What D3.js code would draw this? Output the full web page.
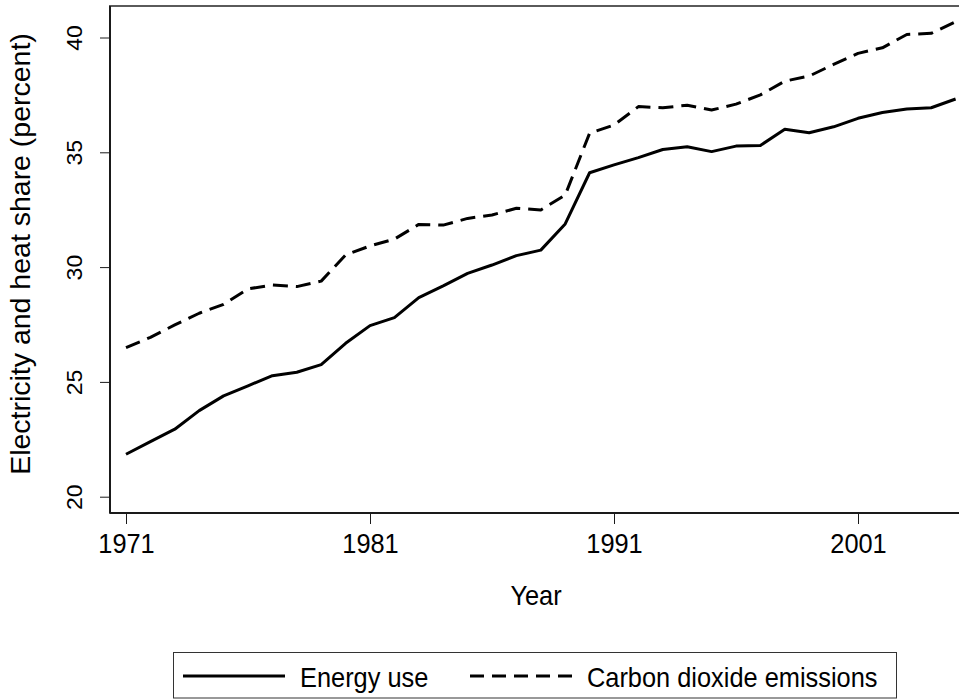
<!DOCTYPE html>
<html lang="en">
<head>
    <meta charset="utf-8">
    <title>Electricity and heat share</title>
    <style>
        body { margin: 0; background: #fff; }
        svg { display: block; font-family: "Liberation Sans", Arial, sans-serif; }
        .axis path { stroke: #1a1a1a; stroke-width: 2px; }
        .axis line { stroke: #1a1a1a; stroke-width: 1px; }
        .axis text { fill: #000; }
    </style>
</head>
<body>
<div id="chart"></div>
<script src="https://d3js.org/d3.v7.min.js"></script>
<script>
    // data
    var years = [1971, 1972, 1973, 1974, 1975, 1976, 1977, 1978, 1979, 1980,
                 1981, 1982, 1983, 1984, 1985, 1986, 1987, 1988, 1989, 1990,
                 1991, 1992, 1993, 1994, 1995, 1996, 1997, 1998, 1999, 2000,
                 2001, 2002, 2003, 2004, 2005];
    var energyUse = [21.85, 22.40, 22.94, 23.75, 24.39, 24.83, 25.27, 25.42, 25.75, 26.68,
                     27.45, 27.80, 28.67, 29.18, 29.73, 30.09, 30.50, 30.74, 31.88, 34.11,
                     34.45, 34.77, 35.12, 35.24, 35.03, 35.27, 35.30, 36.00, 35.85, 36.11,
                     36.48, 36.73, 36.89, 36.94, 37.32];
    var co2Emissions = [26.49, 26.94, 27.48, 27.99, 28.38, 29.05, 29.22, 29.15, 29.39, 30.53,
                        30.92, 31.22, 31.86, 31.83, 32.12, 32.27, 32.56, 32.49, 33.14, 35.83,
                        36.19, 36.99, 36.94, 37.05, 36.84, 37.10, 37.50, 38.10, 38.32, 38.83,
                        39.31, 39.55, 40.13, 40.18, 40.69];
    var xTicks = [1971, 1981, 1991, 2001];
    var yTicks = [20, 25, 30, 35, 40];
    var seriesNames = ["Energy use", "Carbon dioxide emissions"];

    var W = 959, H = 700;
    var plot = { left: 110, right: 961, top: 6, bottom: 513 };
    var squeeze = 0.94; // text in the original is a little narrow

    var x = d3.scaleLinear().domain([1971, 2005]).range([126, 955.6]);
    var y = d3.scaleLinear().domain([20, 40]).range([496.7, 37.5]);

    var svg = d3.select("#chart").append("svg")
        .attr("width", W)
        .attr("height", H);

    // plot region frame (top edge grey, right edge off the page)
    svg.append("rect")
        .attr("x", plot.left)
        .attr("y", plot.top)
        .attr("width", plot.right - plot.left)
        .attr("height", plot.bottom - plot.top)
        .attr("fill", "none")
        .attr("stroke", "#5a5a5a")
        .attr("stroke-width", 2);

    var xAxis = d3.axisBottom(x).tickValues(xTicks).tickSize(11).tickSizeOuter(0)
        .tickFormat(d3.format("d"));
    var yAxis = d3.axisLeft(y).tickValues(yTicks).tickSize(10).tickSizeOuter(0);

    var gx = svg.append("g")
        .attr("class", "axis")
        .attr("transform", "translate(0," + plot.bottom + ")")
        .call(xAxis);
    gx.select(".domain").attr("d", "M" + plot.left + ",0H" + plot.right);
    gx.selectAll("text")
        .attr("y", 40)
        .attr("dy", null)
        .style("font-size", "27px")
        .attr("transform", "scale(" + squeeze + ",1)");

    var gy = svg.append("g")
        .attr("class", "axis")
        .attr("transform", "translate(" + plot.left + ",0)")
        .call(yAxis);
    gy.select(".domain").attr("d", "M0," + plot.top + "V" + plot.bottom);
    gy.selectAll("text")
        .attr("x", 0)
        .attr("y", 0)
        .attr("dy", null)
        .attr("text-anchor", "middle")
        .style("font-size", "23px")
        .attr("transform", "translate(-28,0) rotate(-90) scale(1," + squeeze + ")");

    // axis titles
    svg.append("text")
        .attr("transform", "translate(536,605) scale(" + squeeze + ",1)")
        .attr("text-anchor", "middle")
        .style("font-size", "27px")
        .text("Year");

    svg.append("text")
        .attr("transform", "translate(30,254) rotate(-90) scale(1," + squeeze + ")")
        .attr("text-anchor", "middle")
        .style("font-size", "28.5px")
        .text("Electricity and heat share (percent)");

    // the two series
    var line = d3.line()
        .x(function(d) { return x(d[0]); })
        .y(function(d) { return y(d[1]); });

    var series = [
        { name: seriesNames[0], values: d3.zip(years, energyUse), dash: null },
        { name: seriesNames[1], values: d3.zip(years, co2Emissions), dash: "15,8" }
    ];

    svg.selectAll(".series")
        .data(series)
        .enter().append("path")
        .attr("class", "series")
        .attr("d", function(d) { return line(d.values); })
        .attr("fill", "none")
        .attr("stroke", "#000")
        .attr("stroke-width", 3)
        .attr("stroke-linejoin", "round")
        .attr("stroke-dasharray", function(d) { return d.dash; });

    // legend
    var legend = svg.append("g");
    legend.append("rect")
        .attr("x", 173.5)
        .attr("y", 652.5)
        .attr("width", 723)
        .attr("height", 45.5)
        .attr("fill", "#fff")
        .attr("stroke", "#333")
        .attr("stroke-width", 1);

    var keys = legend.selectAll(".key")
        .data(series)
        .enter().append("g")
        .attr("class", "key")
        .attr("transform", function(d, i) { return "translate(" + (i === 0 ? 183 : 470) + ",0)"; });

    keys.append("line")
        .attr("x1", 0).attr("x2", 102)
        .attr("y1", 676).attr("y2", 676)
        .attr("stroke", "#000")
        .attr("stroke-width", 3)
        .attr("stroke-dasharray", function(d) { return d.dash ? "14,8" : null; });

    keys.append("text")
        .attr("transform", "translate(117,687) scale(" + squeeze + ",1)")
        .style("font-size", "27px")
        .text(function(d) { return d.name; });
</script>
</body>
</html>
